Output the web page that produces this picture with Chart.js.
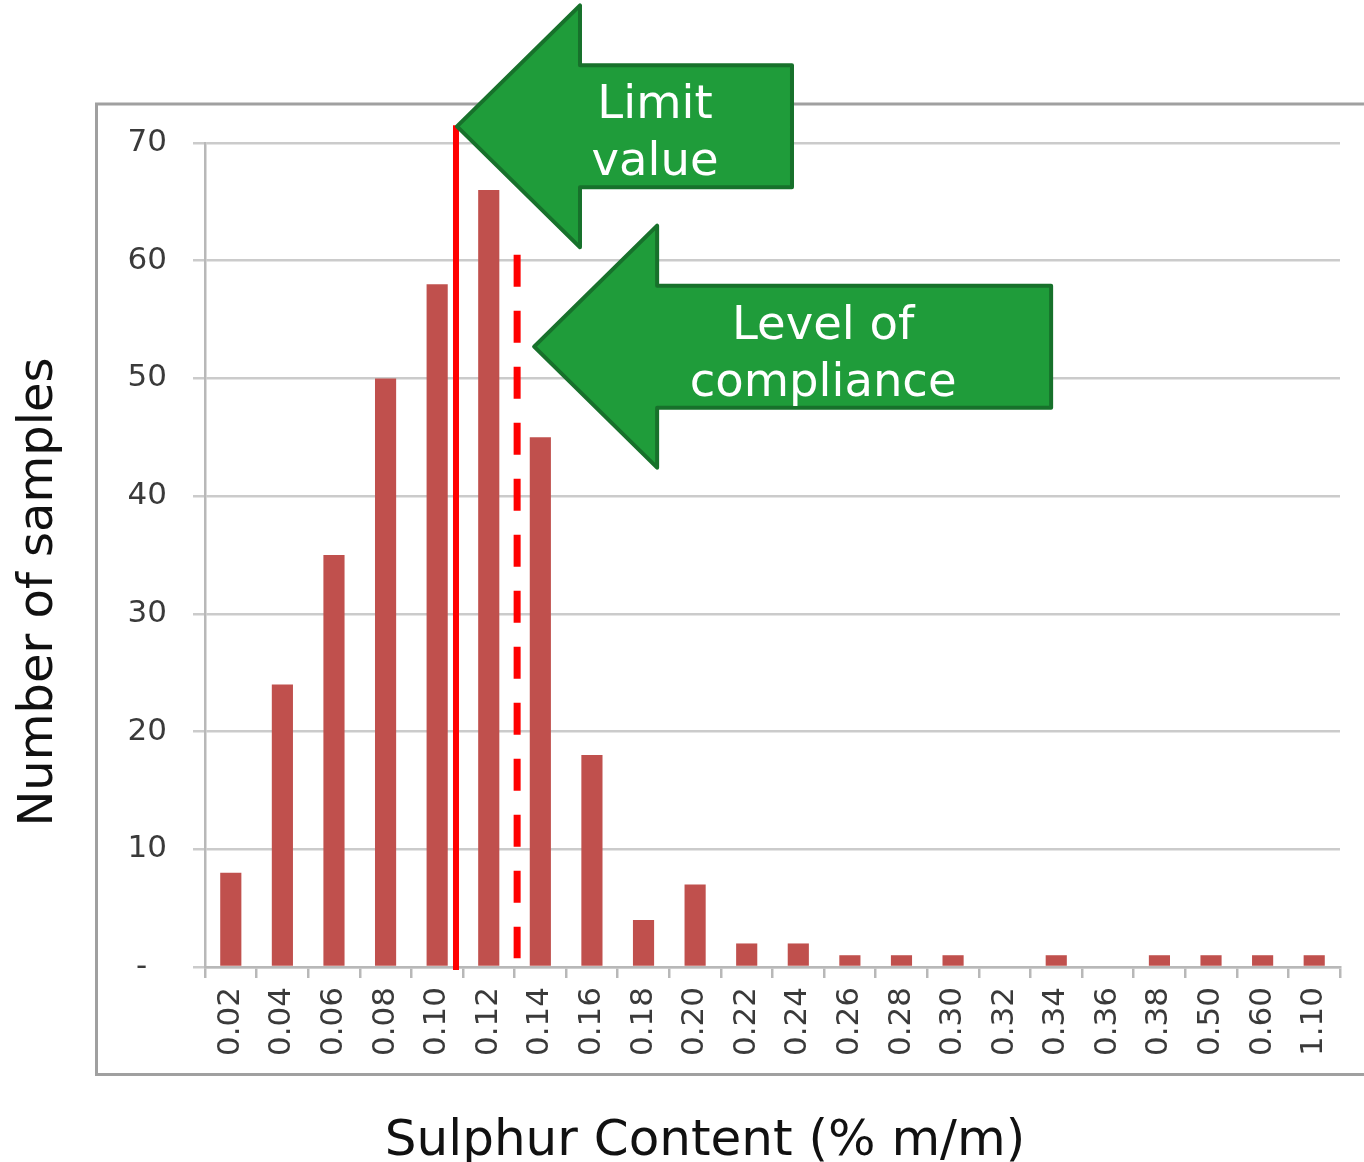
<!DOCTYPE html>
<html>
<head>
<meta charset="utf-8">
<script src="https://cdn.jsdelivr.net/npm/chart.js@4.4.1/dist/chart.umd.min.js"></script>
<style>
  html, body { margin: 0; padding: 0; background: #ffffff; overflow: hidden; }
  canvas { display: block; }
</style>
</head>
<body>
<canvas id="chart" width="1364" height="1162"></canvas>
<script>
// Sulphur content bins (% m/m) and number of samples in each
const sulphurBins = ['0.02', '0.04', '0.06', '0.08', '0.10', '0.12', '0.14', '0.16', '0.18', '0.20', '0.22',
                     '0.24', '0.26', '0.28', '0.30', '0.32', '0.34', '0.36', '0.38', '0.50', '0.60', '1.10'];
const sampleCounts = [8, 24, 35, 50, 58, 66, 45, 18, 4, 7, 2, 2, 1, 1, 1, 0, 1, 0, 1, 1, 1, 1];
const countTicks = [0, 10, 20, 30, 40, 50, 60, 70];

// Reference lines, placed on the category axis (fractional bin index) and count axis
const limitLine = { bin: 4.365, from: 71.5, to: -0.25 };
const complianceLine = { bin: 5.55, from: 60.5, to: 0.75 };
const limitLabel = ['Limit', 'value'];
const complianceLabel = ['Level of', 'compliance'];
const compliancePointer = 52.7;   // count value the compliance arrow points at

const xTitle = 'Sulphur Content (% m/m)';
const yTitle = 'Number of samples';

const FONT = '"DejaVu Sans", Verdana, sans-serif';

function drawArrow(ctx, tipX, tipY, bodyLen, lines) {
  const headLen = 123, headHalf = 121, bodyHalf = 61;
  ctx.save();
  ctx.beginPath();
  ctx.moveTo(tipX, tipY);
  ctx.lineTo(tipX + headLen, tipY - headHalf);
  ctx.lineTo(tipX + headLen, tipY - bodyHalf);
  ctx.lineTo(tipX + bodyLen, tipY - bodyHalf);
  ctx.lineTo(tipX + bodyLen, tipY + bodyHalf);
  ctx.lineTo(tipX + headLen, tipY + bodyHalf);
  ctx.lineTo(tipX + headLen, tipY + headHalf);
  ctx.closePath();
  ctx.fillStyle = '#1f9c3a';
  ctx.fill();
  ctx.lineJoin = 'round';
  ctx.lineWidth = 4;
  ctx.strokeStyle = '#17712b';
  ctx.stroke();

  const cx = tipX + headLen + (bodyLen - headLen) / 2 - 31;
  ctx.fillStyle = '#ffffff';
  ctx.font = '46.5px ' + FONT;
  ctx.textAlign = 'center';
  ctx.textBaseline = 'alphabetic';
  ctx.fillText(lines[0], cx, tipY - 8);
  ctx.fillText(lines[1], cx, tipY + 49);
  ctx.restore();
}

const decorations = {
  id: 'decorations',
  beforeDraw(chart) {
    const ctx = chart.ctx;
    ctx.save();
    ctx.fillStyle = '#ffffff';
    ctx.fillRect(0, 0, chart.width, chart.height);
    // chart frame
    ctx.strokeStyle = '#a0a0a0';
    ctx.lineWidth = 3;
    ctx.strokeRect(96.5, 104, chart.width, 970.5);
    ctx.restore();
  },
  afterDatasetsDraw(chart) {
    const ctx = chart.ctx;
    const xs = chart.scales.x, ys = chart.scales.y;
    ctx.save();
    ctx.strokeStyle = '#ff0000';
    // limit value (solid)
    let x = xs.getPixelForValue(limitLine.bin);
    ctx.lineWidth = 6;
    ctx.beginPath();
    ctx.moveTo(x, ys.getPixelForValue(limitLine.from));
    ctx.lineTo(x, ys.getPixelForValue(limitLine.to));
    ctx.stroke();
    // level of compliance (dashed)
    x = xs.getPixelForValue(complianceLine.bin);
    ctx.lineWidth = 7;
    ctx.setLineDash([32, 24]);
    ctx.beginPath();
    ctx.moveTo(x, ys.getPixelForValue(complianceLine.from));
    ctx.lineTo(x, ys.getPixelForValue(complianceLine.to));
    ctx.stroke();
    ctx.restore();
  },
  afterDraw(chart) {
    const ctx = chart.ctx;
    const xs = chart.scales.x, ys = chart.scales.y;

    drawArrow(ctx, xs.getPixelForValue(limitLine.bin) + 1,
              ys.getPixelForValue(limitLine.from) + 1, 335, limitLabel);
    drawArrow(ctx, xs.getPixelForValue(complianceLine.bin) + 17,
              ys.getPixelForValue(compliancePointer), 517, complianceLabel);

    // axis titles
    ctx.save();
    ctx.fillStyle = '#111111';
    ctx.textAlign = 'center';
    ctx.textBaseline = 'alphabetic';
    ctx.font = '50px ' + FONT;
    ctx.fillText(xTitle, 705, 1155);
    ctx.font = '48px ' + FONT;
    ctx.translate(52, 592);
    ctx.rotate(-Math.PI / 2);
    ctx.fillText(yTitle, 0, 0);
    ctx.restore();
  }
};

new Chart(document.getElementById('chart'), {
  type: 'bar',
  data: {
    labels: sulphurBins,
    datasets: [{
      data: sampleCounts,
      backgroundColor: '#c0504d',
      borderWidth: 0,
      categoryPercentage: 1.0,
      barPercentage: 0.41
    }]
  },
  options: {
    responsive: false,
    devicePixelRatio: 1,
    animation: false,
    layout: { padding: { left: 0, top: 143, right: 24, bottom: 0 } },
    plugins: {
      legend: { display: false },
      tooltip: { enabled: false },
      title: { display: false }
    },
    scales: {
      x: {
        afterFit(scale) { scale.height = 195; },
        grid: {
          drawOnChartArea: false,
          drawTicks: true,
          tickLength: 11,
          color: '#b8b8b8',
          lineWidth: 2.5
        },
        border: { display: true, color: '#b8b8b8', width: 2.5 },
        ticks: {
          autoSkip: false,
          minRotation: 90,
          maxRotation: 90,
          padding: 9,
          color: '#3a3a3a',
          font: { family: FONT, size: 31 }
        }
      },
      y: {
        min: 0,
        max: 70,
        afterFit(scale) { scale.width = 205; },
        afterBuildTicks(scale) { scale.ticks = countTicks.map(v => ({ value: v })); },
        grid: {
          color: '#cbcbcb',
          lineWidth: 2.5,
          drawTicks: true,
          tickLength: 12
        },
        border: { display: true, color: '#b8b8b8', width: 2.5 },
        ticks: {
          padding: 26,
          color: '#3a3a3a',
          font: { family: FONT, size: 31 },
          // accounting-style zero: a dash set in from the right edge
          callback: v => (v === 0 ? '-  ' : String(v))
        }
      }
    }
  },
  plugins: [decorations]
});
</script>
</body>
</html>
